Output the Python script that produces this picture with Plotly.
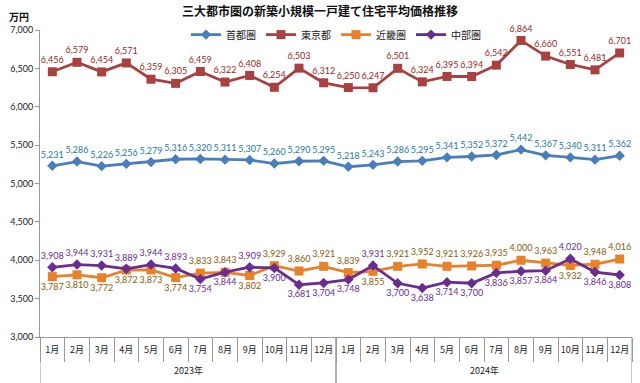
import plotly.graph_objects as go

years = ["2023年"] * 12 + ["2024年"] * 12
months = [f"{m}月" for m in range(1, 13)] * 2

shuto = [5231, 5286, 5226, 5256, 5279, 5316, 5320, 5311, 5307, 5260, 5290, 5295,
         5218, 5243, 5286, 5295, 5341, 5352, 5372, 5442, 5367, 5340, 5311, 5362]
tokyo = [6456, 6579, 6454, 6571, 6359, 6305, 6459, 6322, 6408, 6254, 6503, 6312,
         6250, 6247, 6501, 6324, 6395, 6394, 6542, 6864, 6660, 6551, 6481, 6701]
kinki = [3787, 3810, 3772, 3872, 3873, 3774, 3833, 3843, 3802, 3929, 3860, 3921,
         3839, 3855, 3921, 3952, 3921, 3926, 3935, 4000, 3963, 3932, 3948, 4016]
chubu = [3908, 3944, 3931, 3889, 3944, 3893, 3754, 3844, 3909, 3900, 3681, 3704,
         3748, 3931, 3700, 3638, 3714, 3700, 3836, 3857, 3864, 4020, 3846, 3808]

kinki_pos = ["b", "b", "b", "b", "b", "b", "t", "t", "b", "t", "t", "t",
             "t", "b", "t", "t", "t", "t", "t", "t", "t", "b", "t", "t"]
chubu_pos = ["t", "t", "t", "t", "t", "t", "b", "b", "t", "b", "b", "b",
             "b", "t", "b", "b", "b", "b", "b", "b", "b", "t", "b", "b"]

FONT = "Noto Sans CJK JP"
NUMFONT = "Lato"
idx = list(range(len(months)))


def pos(p):
    return ["top center" if v == "t" else "bottom center" for v in p]


def fmt(vals):
    return [f"{v:,}" for v in vals]


fig = go.Figure()
series = [
    ("首都圏", shuto, ["top center"] * 24, "#4A7EBB", "#1F78A8", "diamond", 8),
    ("東京都", tokyo, ["top center"] * 24, "#A8413F", "#9C1F22", "square", 9),
    ("近畿圏", kinki, pos(kinki_pos), "#E8822A", "#8C5A0A", "square", 9),
    ("中部圏", chubu, pos(chubu_pos), "#6A2C91", "#6A2C91", "diamond", 8),
]
for name, vals, tp, lc, tc, sym, ms in series:
    fig.add_trace(go.Scatter(
        x=idx, y=vals, name=name, mode="lines+markers+text",
        line=dict(color=lc, width=2.8),
        marker=dict(symbol=sym, size=ms, color=lc),
        text=fmt(vals), textposition=tp,
        textfont=dict(size=9, color=tc, family=NUMFONT),
        cliponaxis=False,
    ))

fig.update_layout(
    width=640, height=383,
    margin=dict(l=40, r=8, t=30, b=46, autoexpand=False),
    paper_bgcolor="white", plot_bgcolor="white",
    font=dict(family=FONT, size=10, color="#222"),
    title=dict(text="<b>三大都市圏の新築小規模一戸建て住宅平均価格推移</b>",
               x=0.5, xanchor="center", y=0.968, yanchor="middle",
               font=dict(size=12, family=FONT, color="#111")),
    legend=dict(orientation="h", x=0.5, xanchor="center", y=0.985, yanchor="middle",
                bgcolor="rgba(0,0,0,0)", font=dict(size=10, family=FONT),
                tracegroupgap=0),
    showlegend=True,
)
fig.update_xaxes(range=[-0.5, len(months) - 0.5], showline=True, linecolor="#999",
                 tickvals=idx, ticktext=months, ticks="", tickangle=0,
                 ticklabelstandoff=4,
                 tickfont=dict(size=9, family=FONT, color="#222"), showgrid=False,
                 zeroline=False, automargin=False,
                 minor=dict(tick0=0.5, dtick=1, ticks="outside", ticklen=24,
                            tickcolor="#999", showgrid=False))
fig.update_yaxes(range=[3000, 7000], dtick=500, tickformat=",", showgrid=False,
                 showline=True, linecolor="#999", ticks="outside", tickcolor="#999",
                 ticklen=4, tickfont=dict(size=9, family=NUMFONT), zeroline=False,
                 automargin=False)

# year group labels and separators
groups = []
for i, y in enumerate(years):
    if not groups or groups[-1][0] != y:
        groups.append([y, i, i])
    else:
        groups[-1][2] = i
for y, a, b in groups:
    fig.add_annotation(text=y, x=(a + b) / 2, xref="x", y=-0.11, yref="paper",
                       showarrow=False, xanchor="center", yanchor="middle",
                       font=dict(size=9, family=FONT, color="#222"))
    for xv in (a - 0.5, b + 0.5):
        fig.add_shape(type="line", xref="x", yref="paper", x0=xv, x1=xv,
                      y0=0, y1=-0.16, line=dict(color="#999", width=1))

fig.add_annotation(text="<b>万円</b>", xref="paper", yref="paper", x=-0.035, y=1.045,
                   xanchor="center", yanchor="middle", showarrow=False,
                   font=dict(size=10, family=FONT, color="#111"))

fig.write_html("out.html", config={"displayModeBar": False},
               post_script="document.body.style.margin='0';")
